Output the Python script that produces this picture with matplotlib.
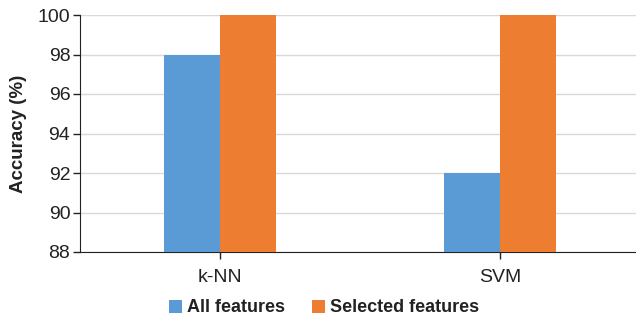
import numpy as np
from matplotlib import pyplot as plt

plt.rcParams['font.family'] = ['Liberation Sans', 'DejaVu Sans']

# accuracy per classifier
classifiers = ['k-NN', 'SVM']
all_features = [98, 92]
selected_features = [100, 100]

blue = '#5B9BD5'
orange = '#ED7D31'

fig = plt.figure(figsize=(6.36, 3.22), dpi=100)
ax = fig.add_axes([80 / 636, 70 / 322, 560 / 636, 237 / 322])

x = np.arange(len(classifiers))
w = 0.2
ax.bar(x - w / 2, all_features, w, color=blue, label='All features', zorder=3)
ax.bar(x + w / 2, selected_features, w, color=orange, label='Selected features', zorder=3)

ax.set_xlim(-0.5, 1.5)
ax.set_ylim(88, 100)
ax.set_yticks(np.arange(88, 101, 2))
ax.set_xticks(x)
ax.set_xticklabels(classifiers)
ax.tick_params(axis='y', labelsize=14, length=5, width=1, color='#222222', labelcolor='#222222', pad=2)
ax.tick_params(axis='x', labelsize=14, length=5, width=1, color='#222222', labelcolor='#222222', pad=7)
ax.grid(axis='y', color='#D9D9D9', linewidth=1, zorder=0)

for s in ['top', 'right']:
    ax.spines[s].set_visible(False)
ax.spines['left'].set_color('#222222')
ax.spines['bottom'].set_color('#222222')

ax.set_ylabel('Accuracy (%)', fontsize=13.5, fontweight='bold', color='#222222', labelpad=8)

fig.legend(loc='center', bbox_to_anchor=(0.51, 14 / 322), ncol=2, frameon=False,
           prop={'size': 13, 'weight': 'bold'}, handlelength=0.7, handleheight=0.7,
           handletextpad=0.3, columnspacing=1.5, labelcolor='#222222')

fig.savefig('out.png', dpi=100)
